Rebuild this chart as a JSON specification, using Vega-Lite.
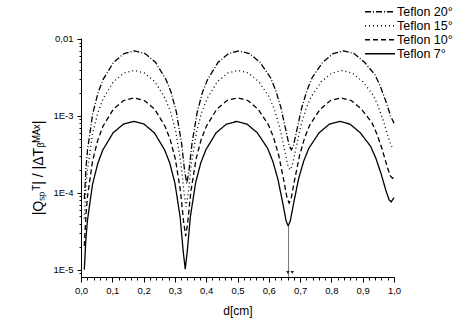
{
  "$schema": "https://vega.github.io/schema/vega-lite/v6.json",
  "width": 313,
  "height": 239,
  "autosize": {"type": "none"},
  "padding": {"left": 81, "top": 38, "right": 63, "bottom": 55},
  "background": "white",
  "config": {
    "view": {"stroke": null},
    "font": "Liberation Sans",
    "axis": {"domainColor": "black", "tickColor": "black", "labelColor": "black", "titleColor": "black", "grid": false, "ticks": true, "labelFont": "Liberation Sans", "titleFont": "Liberation Sans", "titleFontWeight": "normal", "labelOverlap": false, "labelBound": false, "labelFlush": false},
    "legend": {"labelFont": "Liberation Sans", "labelFontSize": 12.5, "labelColor": "black"}
  },
  "resolve": {"axis": {"x": "independent", "y": "independent"}},
  "datasets": {
    "curves": [
      {"d": 0.0107, "q": 8.35e-5, "s": "Teflon 20°"},
      {"d": 0.0157, "q": 2.04e-4, "s": "Teflon 20°"},
      {"d": 0.0207, "q": 3.60e-4, "s": "Teflon 20°"},
      {"d": 0.0374, "q": 1.07e-3, "s": "Teflon 20°"},
      {"d": 0.0541, "q": 1.98e-3, "s": "Teflon 20°"},
      {"d": 0.0708, "q": 2.99e-3, "s": "Teflon 20°"},
      {"d": 0.1042, "q": 4.99e-3, "s": "Teflon 20°"},
      {"d": 0.1376, "q": 6.46e-3, "s": "Teflon 20°"},
      {"d": 0.1710, "q": 7.00e-3, "s": "Teflon 20°"},
      {"d": 0.2044, "q": 6.46e-3, "s": "Teflon 20°"},
      {"d": 0.2378, "q": 4.99e-3, "s": "Teflon 20°"},
      {"d": 0.2712, "q": 2.99e-3, "s": "Teflon 20°"},
      {"d": 0.2879, "q": 2.03e-3, "s": "Teflon 20°"},
      {"d": 0.3046, "q": 1.13e-3, "s": "Teflon 20°"},
      {"d": 0.3213, "q": 4.41e-4, "s": "Teflon 20°"},
      {"d": 0.3313, "q": 1.90e-4, "s": "Teflon 20°"},
      {"d": 0.3380, "q": 1.33e-4, "s": "Teflon 20°"},
      {"d": 0.3447, "q": 1.90e-4, "s": "Teflon 20°"},
      {"d": 0.3547, "q": 4.41e-4, "s": "Teflon 20°"},
      {"d": 0.3714, "q": 1.13e-3, "s": "Teflon 20°"},
      {"d": 0.3881, "q": 2.03e-3, "s": "Teflon 20°"},
      {"d": 0.4048, "q": 2.99e-3, "s": "Teflon 20°"},
      {"d": 0.4382, "q": 4.99e-3, "s": "Teflon 20°"},
      {"d": 0.4716, "q": 6.46e-3, "s": "Teflon 20°"},
      {"d": 0.5050, "q": 7.00e-3, "s": "Teflon 20°"},
      {"d": 0.5384, "q": 6.46e-3, "s": "Teflon 20°"},
      {"d": 0.5718, "q": 4.99e-3, "s": "Teflon 20°"},
      {"d": 0.6052, "q": 3.16e-3, "s": "Teflon 20°"},
      {"d": 0.6219, "q": 2.16e-3, "s": "Teflon 20°"},
      {"d": 0.6386, "q": 1.29e-3, "s": "Teflon 20°"},
      {"d": 0.6553, "q": 6.30e-4, "s": "Teflon 20°"},
      {"d": 0.6653, "q": 4.10e-4, "s": "Teflon 20°"},
      {"d": 0.6720, "q": 3.64e-4, "s": "Teflon 20°"},
      {"d": 0.6787, "q": 4.10e-4, "s": "Teflon 20°"},
      {"d": 0.6887, "q": 6.30e-4, "s": "Teflon 20°"},
      {"d": 0.7054, "q": 1.29e-3, "s": "Teflon 20°"},
      {"d": 0.7221, "q": 2.16e-3, "s": "Teflon 20°"},
      {"d": 0.7388, "q": 3.16e-3, "s": "Teflon 20°"},
      {"d": 0.7722, "q": 4.99e-3, "s": "Teflon 20°"},
      {"d": 0.8056, "q": 6.46e-3, "s": "Teflon 20°"},
      {"d": 0.8390, "q": 7.00e-3, "s": "Teflon 20°"},
      {"d": 0.8724, "q": 6.46e-3, "s": "Teflon 20°"},
      {"d": 0.9058, "q": 4.99e-3, "s": "Teflon 20°"},
      {"d": 0.9392, "q": 3.42e-3, "s": "Teflon 20°"},
      {"d": 0.9559, "q": 2.45e-3, "s": "Teflon 20°"},
      {"d": 0.9726, "q": 1.61e-3, "s": "Teflon 20°"},
      {"d": 0.9893, "q": 1.00e-3, "s": "Teflon 20°"},
      {"d": 1.0000, "q": 8.04e-4, "s": "Teflon 20°"},

      {"d": 0.0106, "q": 4.65e-5, "s": "Teflon 15°"},
      {"d": 0.0156, "q": 1.14e-4, "s": "Teflon 15°"},
      {"d": 0.0206, "q": 2.00e-4, "s": "Teflon 15°"},
      {"d": 0.0372, "q": 5.96e-4, "s": "Teflon 15°"},
      {"d": 0.0538, "q": 1.10e-3, "s": "Teflon 15°"},
      {"d": 0.0704, "q": 1.67e-3, "s": "Teflon 15°"},
      {"d": 0.1036, "q": 2.78e-3, "s": "Teflon 15°"},
      {"d": 0.1368, "q": 3.60e-3, "s": "Teflon 15°"},
      {"d": 0.1700, "q": 3.90e-3, "s": "Teflon 15°"},
      {"d": 0.2032, "q": 3.60e-3, "s": "Teflon 15°"},
      {"d": 0.2364, "q": 2.78e-3, "s": "Teflon 15°"},
      {"d": 0.2696, "q": 1.67e-3, "s": "Teflon 15°"},
      {"d": 0.2862, "q": 1.127e-3, "s": "Teflon 15°"},
      {"d": 0.3028, "q": 6.26e-4, "s": "Teflon 15°"},
      {"d": 0.3194, "q": 2.40e-4, "s": "Teflon 15°"},
      {"d": 0.3294, "q": 9.86e-5, "s": "Teflon 15°"},
      {"d": 0.3360, "q": 6.63e-5, "s": "Teflon 15°"},
      {"d": 0.3426, "q": 9.86e-5, "s": "Teflon 15°"},
      {"d": 0.3526, "q": 2.40e-4, "s": "Teflon 15°"},
      {"d": 0.3692, "q": 6.26e-4, "s": "Teflon 15°"},
      {"d": 0.3858, "q": 1.127e-3, "s": "Teflon 15°"},
      {"d": 0.4024, "q": 1.67e-3, "s": "Teflon 15°"},
      {"d": 0.4356, "q": 2.78e-3, "s": "Teflon 15°"},
      {"d": 0.4688, "q": 3.60e-3, "s": "Teflon 15°"},
      {"d": 0.5020, "q": 3.90e-3, "s": "Teflon 15°"},
      {"d": 0.5352, "q": 3.60e-3, "s": "Teflon 15°"},
      {"d": 0.5684, "q": 2.78e-3, "s": "Teflon 15°"},
      {"d": 0.6016, "q": 1.76e-3, "s": "Teflon 15°"},
      {"d": 0.6182, "q": 1.205e-3, "s": "Teflon 15°"},
      {"d": 0.6348, "q": 7.14e-4, "s": "Teflon 15°"},
      {"d": 0.6514, "q": 3.48e-4, "s": "Teflon 15°"},
      {"d": 0.6614, "q": 2.24e-4, "s": "Teflon 15°"},
      {"d": 0.6680, "q": 1.99e-4, "s": "Teflon 15°"},
      {"d": 0.6746, "q": 2.24e-4, "s": "Teflon 15°"},
      {"d": 0.6846, "q": 3.48e-4, "s": "Teflon 15°"},
      {"d": 0.7012, "q": 7.14e-4, "s": "Teflon 15°"},
      {"d": 0.7178, "q": 1.205e-3, "s": "Teflon 15°"},
      {"d": 0.7344, "q": 1.76e-3, "s": "Teflon 15°"},
      {"d": 0.7676, "q": 2.78e-3, "s": "Teflon 15°"},
      {"d": 0.8008, "q": 3.60e-3, "s": "Teflon 15°"},
      {"d": 0.8340, "q": 3.90e-3, "s": "Teflon 15°"},
      {"d": 0.8672, "q": 3.60e-3, "s": "Teflon 15°"},
      {"d": 0.9004, "q": 2.78e-3, "s": "Teflon 15°"},
      {"d": 0.9336, "q": 1.87e-3, "s": "Teflon 15°"},
      {"d": 0.9502, "q": 1.32e-3, "s": "Teflon 15°"},
      {"d": 0.9668, "q": 8.47e-4, "s": "Teflon 15°"},
      {"d": 0.9834, "q": 5.03e-4, "s": "Teflon 15°"},
      {"d": 0.9934, "q": 3.93e-4, "s": "Teflon 15°"},
      {"d": 1.0000, "q": 3.71e-4, "s": "Teflon 15°"},

      {"d": 0.0106, "q": 2.05e-5, "s": "Teflon 10°"},
      {"d": 0.0156, "q": 5.01e-5, "s": "Teflon 10°"},
      {"d": 0.0205, "q": 8.84e-5, "s": "Teflon 10°"},
      {"d": 0.0371, "q": 2.63e-4, "s": "Teflon 10°"},
      {"d": 0.0536, "q": 4.86e-4, "s": "Teflon 10°"},
      {"d": 0.0701, "q": 7.35e-4, "s": "Teflon 10°"},
      {"d": 0.1032, "q": 1.225e-3, "s": "Teflon 10°"},
      {"d": 0.1362, "q": 1.59e-3, "s": "Teflon 10°"},
      {"d": 0.1693, "q": 1.72e-3, "s": "Teflon 10°"},
      {"d": 0.2023, "q": 1.59e-3, "s": "Teflon 10°"},
      {"d": 0.2354, "q": 1.225e-3, "s": "Teflon 10°"},
      {"d": 0.2684, "q": 7.35e-4, "s": "Teflon 10°"},
      {"d": 0.2849, "q": 4.97e-4, "s": "Teflon 10°"},
      {"d": 0.3015, "q": 2.75e-4, "s": "Teflon 10°"},
      {"d": 0.3180, "q": 1.045e-4, "s": "Teflon 10°"},
      {"d": 0.3279, "q": 4.19e-5, "s": "Teflon 10°"},
      {"d": 0.3345, "q": 2.75e-5, "s": "Teflon 10°"},
      {"d": 0.3411, "q": 4.19e-5, "s": "Teflon 10°"},
      {"d": 0.3510, "q": 1.045e-4, "s": "Teflon 10°"},
      {"d": 0.3676, "q": 2.75e-4, "s": "Teflon 10°"},
      {"d": 0.3841, "q": 4.97e-4, "s": "Teflon 10°"},
      {"d": 0.4006, "q": 7.35e-4, "s": "Teflon 10°"},
      {"d": 0.4337, "q": 1.225e-3, "s": "Teflon 10°"},
      {"d": 0.4667, "q": 1.59e-3, "s": "Teflon 10°"},
      {"d": 0.4998, "q": 1.72e-3, "s": "Teflon 10°"},
      {"d": 0.5328, "q": 1.59e-3, "s": "Teflon 10°"},
      {"d": 0.5659, "q": 1.225e-3, "s": "Teflon 10°"},
      {"d": 0.5989, "q": 7.68e-4, "s": "Teflon 10°"},
      {"d": 0.6154, "q": 5.23e-4, "s": "Teflon 10°"},
      {"d": 0.6320, "q": 3.05e-4, "s": "Teflon 10°"},
      {"d": 0.6485, "q": 1.41e-4, "s": "Teflon 10°"},
      {"d": 0.6584, "q": 8.57e-5, "s": "Teflon 10°"},
      {"d": 0.6650, "q": 7.39e-5, "s": "Teflon 10°"},
      {"d": 0.6716, "q": 8.57e-5, "s": "Teflon 10°"},
      {"d": 0.6815, "q": 1.41e-4, "s": "Teflon 10°"},
      {"d": 0.6981, "q": 3.05e-4, "s": "Teflon 10°"},
      {"d": 0.7146, "q": 5.23e-4, "s": "Teflon 10°"},
      {"d": 0.7311, "q": 7.68e-4, "s": "Teflon 10°"},
      {"d": 0.7642, "q": 1.225e-3, "s": "Teflon 10°"},
      {"d": 0.7972, "q": 1.59e-3, "s": "Teflon 10°"},
      {"d": 0.8303, "q": 1.72e-3, "s": "Teflon 10°"},
      {"d": 0.8633, "q": 1.59e-3, "s": "Teflon 10°"},
      {"d": 0.8964, "q": 1.225e-3, "s": "Teflon 10°"},
      {"d": 0.9294, "q": 8.18e-4, "s": "Teflon 10°"},
      {"d": 0.9459, "q": 5.77e-4, "s": "Teflon 10°"},
      {"d": 0.9625, "q": 3.66e-4, "s": "Teflon 10°"},
      {"d": 0.9790, "q": 2.14e-4, "s": "Teflon 10°"},
      {"d": 0.9889, "q": 1.65e-4, "s": "Teflon 10°"},
      {"d": 0.9955, "q": 1.55e-4, "s": "Teflon 10°"},
      {"d": 1.0000, "q": 1.61e-4, "s": "Teflon 10°"},

      {"d": 0.0106, "q": 1.01e-5, "s": "Teflon 7°"},
      {"d": 0.0155, "q": 2.48e-5, "s": "Teflon 7°"},
      {"d": 0.0205, "q": 4.37e-5, "s": "Teflon 7°"},
      {"d": 0.0369, "q": 1.30e-4, "s": "Teflon 7°"},
      {"d": 0.0534, "q": 2.40e-4, "s": "Teflon 7°"},
      {"d": 0.0698, "q": 3.63e-4, "s": "Teflon 7°"},
      {"d": 0.1027, "q": 6.05e-4, "s": "Teflon 7°"},
      {"d": 0.1356, "q": 7.84e-4, "s": "Teflon 7°"},
      {"d": 0.1685, "q": 8.50e-4, "s": "Teflon 7°"},
      {"d": 0.2014, "q": 7.84e-4, "s": "Teflon 7°"},
      {"d": 0.2343, "q": 6.05e-4, "s": "Teflon 7°"},
      {"d": 0.2672, "q": 3.63e-4, "s": "Teflon 7°"},
      {"d": 0.2837, "q": 2.44e-4, "s": "Teflon 7°"},
      {"d": 0.3001, "q": 1.34e-4, "s": "Teflon 7°"},
      {"d": 0.3166, "q": 4.93e-5, "s": "Teflon 7°"},
      {"d": 0.3264, "q": 1.77e-5, "s": "Teflon 7°"},
      {"d": 0.3330, "q": 1.02e-5, "s": "Teflon 7°"},
      {"d": 0.3396, "q": 1.77e-5, "s": "Teflon 7°"},
      {"d": 0.3495, "q": 4.93e-5, "s": "Teflon 7°"},
      {"d": 0.3659, "q": 1.34e-4, "s": "Teflon 7°"},
      {"d": 0.3824, "q": 2.44e-4, "s": "Teflon 7°"},
      {"d": 0.3988, "q": 3.63e-4, "s": "Teflon 7°"},
      {"d": 0.4317, "q": 6.05e-4, "s": "Teflon 7°"},
      {"d": 0.4646, "q": 7.84e-4, "s": "Teflon 7°"},
      {"d": 0.4975, "q": 8.50e-4, "s": "Teflon 7°"},
      {"d": 0.5304, "q": 7.84e-4, "s": "Teflon 7°"},
      {"d": 0.5633, "q": 6.05e-4, "s": "Teflon 7°"},
      {"d": 0.5962, "q": 3.80e-4, "s": "Teflon 7°"},
      {"d": 0.6127, "q": 2.59e-4, "s": "Teflon 7°"},
      {"d": 0.6291, "q": 1.51e-4, "s": "Teflon 7°"},
      {"d": 0.6456, "q": 7.06e-5, "s": "Teflon 7°"},
      {"d": 0.6554, "q": 4.31e-5, "s": "Teflon 7°"},
      {"d": 0.6620, "q": 3.74e-5, "s": "Teflon 7°"},
      {"d": 0.6686, "q": 4.31e-5, "s": "Teflon 7°"},
      {"d": 0.6785, "q": 7.06e-5, "s": "Teflon 7°"},
      {"d": 0.6949, "q": 1.51e-4, "s": "Teflon 7°"},
      {"d": 0.7114, "q": 2.59e-4, "s": "Teflon 7°"},
      {"d": 0.7278, "q": 3.80e-4, "s": "Teflon 7°"},
      {"d": 0.7607, "q": 6.05e-4, "s": "Teflon 7°"},
      {"d": 0.7936, "q": 7.84e-4, "s": "Teflon 7°"},
      {"d": 0.8265, "q": 8.50e-4, "s": "Teflon 7°"},
      {"d": 0.8594, "q": 7.84e-4, "s": "Teflon 7°"},
      {"d": 0.8923, "q": 6.05e-4, "s": "Teflon 7°"},
      {"d": 0.9252, "q": 4.04e-4, "s": "Teflon 7°"},
      {"d": 0.9417, "q": 2.85e-4, "s": "Teflon 7°"},
      {"d": 0.9581, "q": 1.81e-4, "s": "Teflon 7°"},
      {"d": 0.9746, "q": 1.06e-4, "s": "Teflon 7°"},
      {"d": 0.9844, "q": 8.13e-5, "s": "Teflon 7°"},
      {"d": 0.9910, "q": 7.65e-5, "s": "Teflon 7°"},
      {"d": 1.0000, "q": 8.70e-5, "s": "Teflon 7°"}
    ],
    "marker": [
      {"d": 0.663, "q": 3.7e-5, "q2": 8.2e-6}
    ],
    "arrows": [
      {"d": 0.661, "q": 9.3e-6},
      {"d": 0.675, "q": 9.3e-6}
    ]
  },
  "layer": [
    {
      "data": {"name": "curves"},
      "mark": {"type": "line", "color": "black", "strokeWidth": 1.3},
      "encoding": {
        "x": {
          "field": "d", "type": "quantitative",
          "scale": {"domain": [0, 1], "nice": false, "zero": false},
          "axis": {
            "orient": "bottom",
            "title": "d[cm]", "titleFontSize": 12, "titleX": 156.5, "titleY": 33, "titleBaseline": "middle",
            "values": [0, 0.1, 0.2, 0.3, 0.4, 0.5, 0.6, 0.7, 0.8, 0.9, 1.0],
            "labelExpr": "replace(format(datum.value, '.1f'), '.', ',')",
            "labelOverlap": false, "labelBound": false, "labelFlush": false,
            "labelFontSize": 9.5, "labelPadding": 3,
            "ticks": true, "tickSize": 5, "domainWidth": 1, "tickWidth": 1, "tickColor": "black"
          }
        },
        "y": {
          "field": "q", "type": "quantitative",
          "scale": {"type": "log", "domain": [8.1e-6, 0.0103], "nice": false},
          "axis": {
            "orient": "left",
            "title": "|Qₛₚᵀ| / |ΔTᵦᴹᴬˣ|", "titleFontSize": 14, "titleAngle": -90, "titleX": -42.5, "titleY": 129.5, "titleAlign": "center", "titleBaseline": "middle",
            "values": [1e-5, 1e-4, 1e-3, 0.01],
            "labelExpr": "datum.value > 0.009 ? '0,01' : '1E' + round(log(datum.value)/LN10)",
            "labelOverlap": false, "labelBound": false, "labelFlush": false,
            "labelFontSize": 9.5, "labelPadding": 4,
            "ticks": true, "tickSize": 4, "domainWidth": 1, "tickWidth": 1, "tickColor": "black"
          }
        },
        "detail": {"field": "s"},
        "strokeDash": {
          "field": "s", "type": "nominal",
          "scale": {"domain": ["Teflon 20°", "Teflon 15°", "Teflon 10°", "Teflon 7°"], "range": [[6, 2, 1, 2], [1, 3], [5, 3], [1, 0]]},
          "legend": {"title": null, "orient": "none", "legendX": 283, "legendY": -33, "symbolType": "stroke", "symbolSize": 900, "symbolStrokeWidth": 1.3, "symbolStrokeColor": "black", "labelOffset": 1, "rowPadding": 0, "clipHeight": 13.5, "padding": 0}
        }
      }
    },
    {
      "data": {"name": "marker"},
      "mark": {"type": "rule", "color": "#777777", "strokeWidth": 1},
      "encoding": {
        "x": {
          "field": "d", "type": "quantitative",
          "axis": {
            "orient": "bottom", "title": null, "labels": false, "domain": false,
            "values": [0.02, 0.04, 0.06, 0.08, 0.12, 0.14, 0.16, 0.18, 0.22, 0.24, 0.26, 0.28, 0.32, 0.34, 0.36, 0.38, 0.42, 0.44, 0.46, 0.48, 0.52, 0.54, 0.56, 0.58, 0.62, 0.64, 0.66, 0.68, 0.72, 0.74, 0.76, 0.78, 0.82, 0.84, 0.86, 0.88, 0.92, 0.94, 0.96, 0.98],
            "ticks": true, "tickSize": 3, "tickWidth": 1, "tickColor": "black"
          }
        },
        "y": {
          "field": "q", "type": "quantitative",
          "axis": {
            "orient": "left", "title": null, "labels": false, "domain": false,
            "values": [9e-6, 2e-5, 3e-5, 4e-5, 5e-5, 6e-5, 7e-5, 8e-5, 9e-5, 2e-4, 3e-4, 4e-4, 5e-4, 6e-4, 7e-4, 8e-4, 9e-4, 2e-3, 3e-3, 4e-3, 5e-3, 6e-3, 7e-3, 8e-3, 9e-3],
            "ticks": true, "tickSize": 2, "tickWidth": 1, "tickColor": "black"
          }
        },
        "y2": {"field": "q2"}
      }
    },
    {
      "data": {"name": "arrows"},
      "mark": {"type": "point", "shape": "triangle-down", "filled": true, "size": 12, "color": "#222222", "opacity": 1},
      "encoding": {
        "x": {"field": "d", "type": "quantitative", "axis": null},
        "y": {"field": "q", "type": "quantitative", "axis": null}
      }
    }
  ]
}
